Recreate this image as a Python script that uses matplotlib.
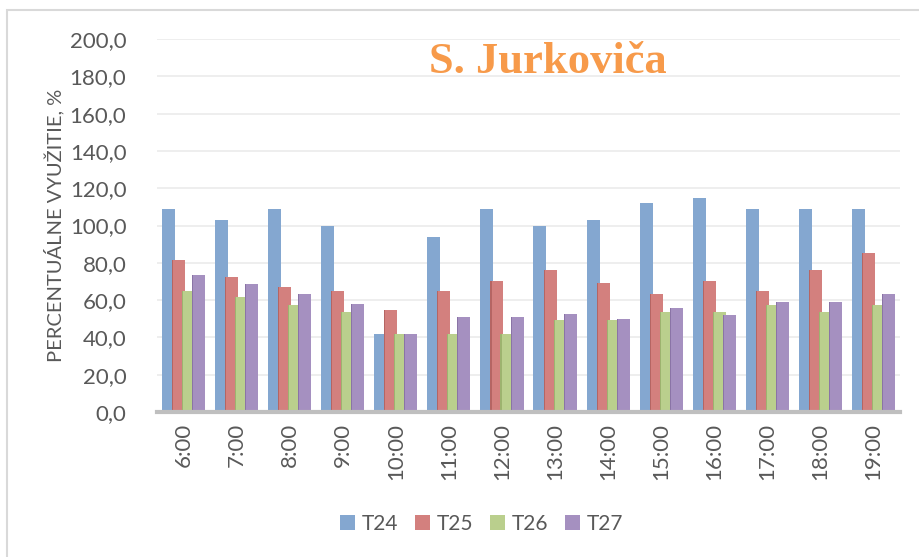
import numpy as np
import matplotlib
matplotlib.use("Agg")
import matplotlib.pyplot as plt
from matplotlib.patches import Rectangle

# Data
hours = ['6:00', '7:00', '8:00', '9:00', '10:00', '11:00', '12:00',
         '13:00', '14:00', '15:00', '16:00', '17:00', '18:00', '19:00']
t24 = [109, 103, 109, 100, 42, 94, 109, 100, 103, 112, 115, 109, 109, 109]
t25 = [81.5, 72.5, 67, 65, 54.5, 65, 70.5, 76, 69, 63.5, 70.5, 65, 76, 85]
t26 = [65, 61.5, 57.5, 53.5, 42, 42, 42, 49.5, 49.5, 53.5, 53.5, 57.5, 53.5, 57.5]
t27 = [73.5, 68.5, 63.5, 58, 42, 51, 51, 52.5, 50, 55.5, 52, 59, 59, 63.5]

series = {'T24': t24, 'T25': t25, 'T26': t26, 'T27': t27}
colors = ['#84A7D0', '#D3807E', '#BACF8D', '#A590C0']
edge_dark = ['#6A8DB8', '#B56563', '#9DB36F', '#8A74A6']

plt.rcParams['font.family'] = ['Lato', 'DejaVu Sans']

fig = plt.figure(figsize=(9.2, 5.57), dpi=100)
ax = fig.add_axes([157 / 920, 1 - 412 / 557, 743 / 920, 373 / 557])

x = np.arange(len(hours))
width = 0.245
step = 0.189
for i, (name, vals) in enumerate(series.items()):
    off = (i - 1.5) * step
    ax.bar(x + off, vals, width=width, color=colors[i], label=name,
           zorder=2 + i, linewidth=0)
    # thin dark shadow at the left edge of overlapping bars
    if i > 0:
        ax.bar(x + off - width / 2 + 0.01, vals, width=0.02,
               color=edge_dark[i], zorder=2 + i, linewidth=0)

ax.set_xlim(-0.5, len(hours) - 0.5)
ax.set_ylim(0, 200)
ax.set_yticks(np.arange(0, 201, 20))
ax.set_yticklabels([f'{v:.1f}'.replace('.', ',') for v in np.arange(0, 201, 20)])
ax.set_xticks(x)
ax.set_xticklabels(hours, rotation=90)
ax.tick_params(axis='both', length=0, colors='#595959', labelsize=16)
ax.tick_params(axis='x', pad=8)
ax.tick_params(axis='y', pad=22)
ax.grid(axis='y', color='#EBEBEB', linewidth=1.2, zorder=0)
ax.set_axisbelow(True)
for s in ['top', 'right', 'left']:
    ax.spines[s].set_visible(False)
ax.spines['bottom'].set_color('#BFBFBF')
ax.spines['bottom'].set_linewidth(3)
ax.spines['bottom'].set_zorder(10)

ax.set_ylabel('PERCENTUÁLNE VYUŽITIE, %', color='#595959', fontsize=14.5, labelpad=4)

fig.text(548 / 920, 1 - 62 / 557, 'S. Jurkoviča', color='#F79A4A',
         fontsize=32, fontweight='bold', family='Liberation Serif',
         ha='center', va='center')

leg = fig.legend(loc='center', bbox_to_anchor=(482 / 920, 1 - 524 / 557), ncol=4,
                 frameon=False, fontsize=15, handlelength=0.7, handleheight=0.7,
                 columnspacing=0.8, handletextpad=0.35, labelcolor='#595959')

# outer chart border
fig.patches.append(Rectangle((7 / 920, -0.1), 1.2, 1 - 10 / 557 + 0.1,
                             transform=fig.transFigure, fill=False,
                             edgecolor='#D9D9D9', linewidth=1.5))

fig.savefig('out.png', dpi=100)
